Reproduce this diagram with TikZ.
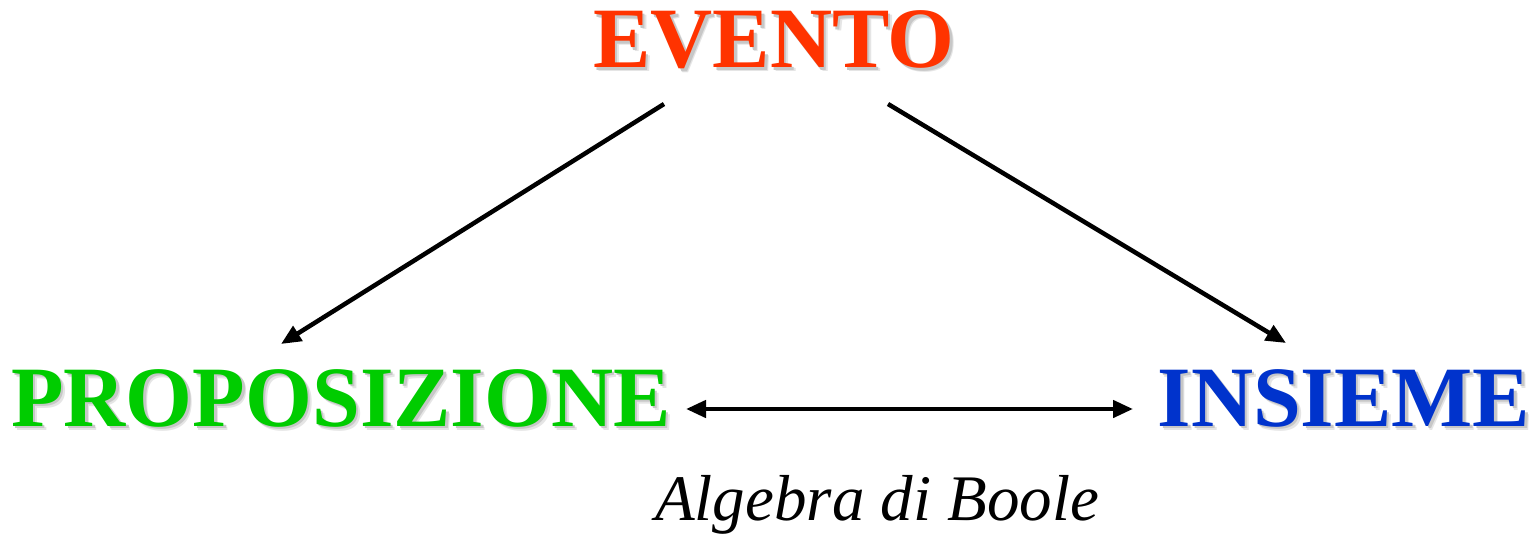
\documentclass[tikz,border=0pt]{standalone}
\usepackage{fontspec}
\setmainfont{Liberation Serif}
\usetikzlibrary{arrows.meta}
\definecolor{evred}{HTML}{FF3300}
\definecolor{propgreen}{HTML}{00CC00}
\definecolor{insblue}{HTML}{0033CC}
\newcommand\shadowtxt[2]{%
  \makebox[0pt][l]{\hspace*{4bp}\raisebox{-4bp}{\color{black!10}#2}}%
  \makebox[0pt][l]{\hspace*{2.5bp}\raisebox{-2.5bp}{\color{black!22}#2}}%
  {\color{#1}#2}}
\tikzset{
  big/.style={font=\fontsize{86bp}{86bp}\selectfont\bfseries, inner sep=0pt, anchor=base},
  arr/.style={line width=4.5bp, -{Triangle[length=20bp,width=17bp]}},
  darr/.style={line width=4.5bp, {Triangle[length=20bp,width=17bp]}-{Triangle[length=20bp,width=17bp]}},
}
\begin{document}
\begin{tikzpicture}[x=1bp,y=-1bp]
\useasboundingbox (0,0) rectangle (1540,539);
\node[big] (ev) at (774,68) {\shadowtxt{evred}{EVENTO}};
\node[big] (prop) at (341,426) {\shadowtxt{propgreen}{PROPOSIZIONE}};
\node[big] (ins) at (1344,426) {\shadowtxt{insblue}{INSIEME}};
\node[font=\fontsize{65bp}{65bp}\selectfont\itshape, inner sep=0pt, anchor=base west] (alg) at (655,520) {Algebra di Boole};
% connector ends
\coordinate (evL) at (664,104);
\coordinate (evR) at (888,104);
\coordinate (propT) at (281,344);
\coordinate (insT) at (1286,343);
\coordinate (propR) at (686,409);
\coordinate (insL) at (1133,409);
\draw[arr] (evL) -- (propT);
\draw[arr] (evR) -- (insT);
\draw[darr] (propR) -- (insL);
\end{tikzpicture}
\end{document}
